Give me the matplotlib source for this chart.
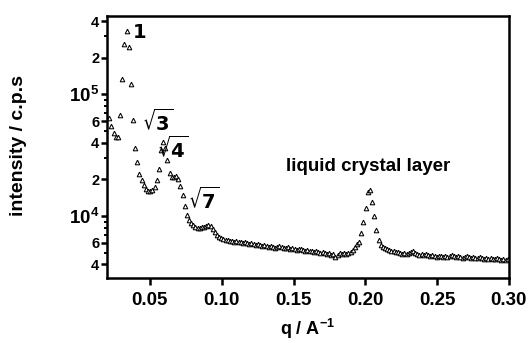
import matplotlib
matplotlib.use("Agg")
import matplotlib.pyplot as plt
import numpy as np
from matplotlib.ticker import FixedLocator, NullFormatter

plt.rcParams["font.family"] = ["Liberation Sans", "DejaVu Sans"]
plt.rcParams["font.weight"] = "bold"
plt.rcParams["mathtext.fontset"] = "custom"
plt.rcParams["mathtext.rm"] = "Liberation Sans:bold"
plt.rcParams["mathtext.bf"] = "Liberation Sans:bold"
plt.rcParams["mathtext.it"] = "Liberation Sans:bold"

# scan grid (q in 1/A) and measured intensity (counts per second)
q_start = 0.0217
q_step = 0.0015
intensity = [
    63500, 54700, 47900, 44500, 44500, 67300, 133000, 262000, 335000, 247000,
    121000, 61200, 36100, 27700, 22100, 19700, 17900, 16600, 16000, 16000,
    16300, 17300, 19700, 24300, 34700, 40500, 36100, 28800, 22500, 20900,
    20900, 21300, 20100, 17600, 14900, 12100, 10200, 9280, 8770, 8440,
    8130, 7980, 7980, 8130, 8130, 8280, 8440, 8280, 7820, 7390,
    6990, 6730, 6600, 6480, 6360, 6360, 6240, 6240, 6120, 6240,
    6120, 6120, 6010, 6120, 6010, 5890, 6010, 5890, 5780, 5890,
    5780, 5680, 5780, 5680, 5570, 5680, 5570, 5470, 5570, 5680,
    5570, 5470, 5470, 5570, 5370, 5470, 5370, 5260, 5370, 5370,
    5260, 5170, 5260, 5170, 5170, 5070, 5170, 5070, 4980, 5070,
    4980, 4890, 4980, 4790, 4890, 4610, 4790, 4980, 4890, 4980,
    4890, 4980, 5070, 5260, 5570, 5890, 6120, 7260, 8930, 11600,
    15700, 16300, 13000, 10000, 7680, 6360, 5780, 5570, 5470, 5370,
    5260, 5170, 5170, 5070, 5070, 4980, 4890, 4980, 4890, 4980,
    5070, 5170, 4980, 4890, 4790, 4890, 4790, 4890, 4790, 4700,
    4790, 4700, 4610, 4700, 4700, 4610, 4700, 4610, 4700, 4790,
    4700, 4610, 4700, 4610, 4530, 4610, 4700, 4610, 4530, 4610,
    4530, 4530, 4610, 4530, 4440, 4530, 4440, 4530, 4440, 4440,
    4530, 4440, 4360, 4440, 4360, 4440,
]
q = q_start + q_step * np.arange(len(intensity))

x_ticks = [0.05, 0.10, 0.15, 0.20, 0.25, 0.30]
y_major = [4e3, 6e3, 1e4, 2e4, 4e4, 6e4, 1e5, 2e5, 4e5]
y_labels = ["4", "6", r"$\mathbf{10^4}$", "2", "4", "6", r"$\mathbf{10^5}$", "2", "4"]
y_minor = [3e3, 5e3, 7e3, 8e3, 9e3, 3e4, 5e4, 7e4, 8e4, 9e4, 3e5]

peaks = [r"$\mathbf{1}$", r"$\mathbf{\sqrt{3}}$", r"$\mathbf{\sqrt{4}}$", r"$\mathbf{\sqrt{7}}$"]
peak_q = [0.0424, 0.0553, 0.0660, 0.0877]
peak_i = [3.2e5, 5.9e4, 3.6e4, 1.35e4]
layer_label = "liquid crystal layer"
layer_q, layer_i = 0.2023, 2.55e4

fig = plt.figure(figsize=(5.29, 3.43), dpi=100)
ax = fig.add_axes([0.202, 0.190, 0.760, 0.763])

ax.plot(q, intensity, linestyle="none", marker="^", markersize=3.3,
        markerfacecolor="white", markeredgecolor="black", markeredgewidth=0.75)

ax.set_yscale("log")
ax.set_xlim(0.02, 0.30)
ax.set_ylim(3.1e3, 4.4e5)

ax.xaxis.set_major_locator(FixedLocator(x_ticks))
ax.set_xticklabels(["%.2f" % t for t in x_ticks])
ax.yaxis.set_major_locator(FixedLocator(y_major))
ax.set_yticklabels(y_labels)
ax.yaxis.set_minor_locator(FixedLocator(y_minor))
ax.yaxis.set_minor_formatter(NullFormatter())
ax.xaxis.set_minor_locator(FixedLocator([]))

ax.tick_params(axis="x", which="major", direction="out", width=1.8,
               length=5, pad=5, labelsize=13.5)
ax.tick_params(axis="y", which="major", direction="out", width=1.8,
               length=4, pad=1.5, labelsize=10.5)
ax.tick_params(axis="y", which="minor", direction="out", length=2.5, width=1.4)
for lab in ax.get_yticklabels():
    if "10" in lab.get_text():
        lab.set_fontsize(13.5)
for s in ax.spines.values():
    s.set_linewidth(1.8)

for lab, xq, yi in zip(peaks, peak_q, peak_i):
    ax.text(xq, yi, lab, ha="center", va="center", fontsize=14,
            math_fontfamily="dejavusans")
ax.text(layer_q, layer_i, layer_label, ha="center", va="center",
        fontsize=13.5, fontweight="bold")

ax.set_xlabel(r"q / A$^{\mathbf{-1}}$", fontsize=13, fontweight="bold")
ax.set_ylabel("intensity / c.p.s", fontsize=14, fontweight="bold")
ax.xaxis.set_label_coords(0.5, -0.196)
ax.yaxis.set_label_coords(-0.221, 0.504)
ax.xaxis.label.set_va("center")
ax.yaxis.label.set_va("center")

fig.savefig("out.png", dpi=100)
